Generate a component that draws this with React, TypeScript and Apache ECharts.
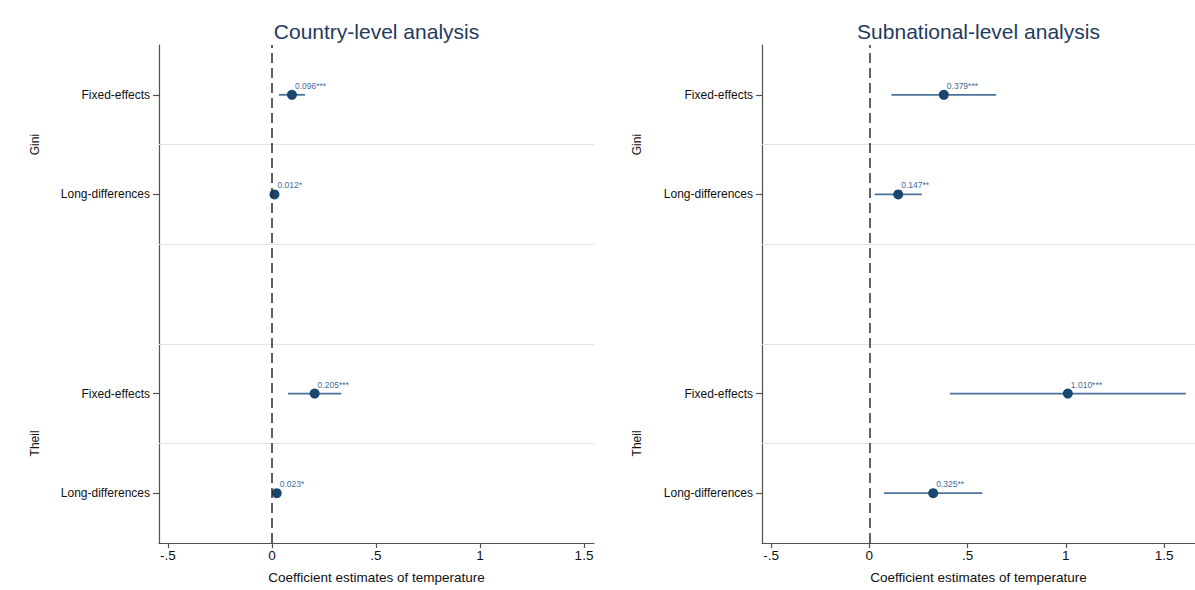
import React, { useEffect, useRef } from "react";
import * as echarts from "echarts";

// Row layout (value positions on the vertical axis, 0 = bottom, 10 = top)
const rowLabels = ["Fixed-effects", "Long-differences", "Fixed-effects", "Long-differences"];
const rowPositions = [9, 7, 3, 1];
const separatorPositions = [8, 6, 4, 2];
const groupLabels = ["Gini", "Theil"];
const groupPositions = [8, 2];

// Country-level estimates and 95% intervals
const countryEst = [0.096, 0.012, 0.205, 0.023];
const countryLo = [0.033, 0.006, 0.077, 0.013];
const countryHi = [0.159, 0.018, 0.333, 0.033];
const countryStars = ["***", "*", "***", "*"];

// Subnational-level estimates and 95% intervals
const subEst = [0.379, 0.147, 1.01, 0.325];
const subLo = [0.113, 0.027, 0.41, 0.075];
const subHi = [0.645, 0.267, 1.61, 0.575];
const subStars = ["***", "**", "***", "**"];

const xTicks = [-0.5, 0, 0.5, 1, 1.5];
const titles = ["Country-level analysis", "Subnational-level analysis"];
const xName = "Coefficient estimates of temperature";

const FONT = "'Liberation Sans', Arial, Helvetica, sans-serif";
const DOT = "#1a476f";
const CI = "#4a7199";
const LABEL = "#3f6c9c";
const GRID = "#dfe3f0";
const AXIS = "#505050";

const fmtTick = (v: number) => {
  if (v === 0) return "0";
  const s = String(v);
  return s.replace(/^(-?)0\./, "$1.");
};

export default function App() {
  const ref = useRef<HTMLDivElement>(null);

  useEffect(() => {
    if (!ref.current) return;
    const chart = echarts.init(ref.current, null, { renderer: "svg" });

    const grids = [
      { left: 159, right: 601, top: 45, bottom: 47 },
      { left: 762, right: 0, top: 45, bottom: 47 },
    ];
    const xRanges = [
      [-0.543, 1.548],
      [-0.546, 1.657],
    ];
    const panels = [
      { est: countryEst, lo: countryLo, hi: countryHi, stars: countryStars },
      { est: subEst, lo: subLo, hi: subHi, stars: subStars },
    ];

    const xAxis = xRanges.map((r, i) => ({
      type: "value",
      gridIndex: i,
      min: r[0],
      max: r[1],
      name: xName,
      nameLocation: "middle",
      nameGap: 27,
      nameTextStyle: { fontFamily: FONT, fontSize: 13.5, color: "#111" },
      axisLine: { show: true, onZero: false, lineStyle: { color: AXIS, width: 1.2 } },
      axisTick: { show: true, length: 5, customValues: xTicks, lineStyle: { color: AXIS, width: 1.2 } },
      axisLabel: {
        customValues: xTicks,
        formatter: (v: number) => fmtTick(v),
        fontFamily: FONT,
        fontSize: 13.5,
        color: "#111",
        margin: 5,
      },
      splitLine: { show: false },
    }));

    const yAxis = grids.map((_, i) => ({
      type: "value",
      gridIndex: i,
      min: 0,
      max: 10,
      interval: 2,
      axisLine: { show: true, onZero: false, lineStyle: { color: AXIS, width: 1.2 } },
      axisTick: { show: true, length: 6, customValues: rowPositions, lineStyle: { color: AXIS, width: 1.2 } },
      axisLabel: {
        customValues: rowPositions,
        formatter: (v: number) => rowLabels[rowPositions.indexOf(v)] ?? "",
        fontFamily: FONT,
        fontSize: 12,
        color: "#111",
        margin: 9,
      },
      splitLine: { show: false },
    }));

    const series: any[] = [];
    panels.forEach((p, i) => {
      // row separators and the zero reference line, drawn beneath the estimates
      series.push({
        type: "line",
        xAxisIndex: i,
        yAxisIndex: i,
        data: [],
        z: 1,
        markLine: {
          silent: true,
          symbol: "none",
          label: { show: false },
          data: [
            ...separatorPositions.map((v) => ({
              yAxis: v,
              lineStyle: { color: GRID, width: 1.2, type: "solid" },
            })),
            {
              xAxis: 0,
              lineStyle: { color: "#2e2e2e", width: 1.5, type: [10, 5] },
            },
          ],
        },
      });
      series.push({
        type: "custom",
        xAxisIndex: i,
        yAxisIndex: i,
        data: p.est.map((_, k) => [p.lo[k], p.hi[k], rowPositions[k]]),
        encode: { x: [0, 1], y: 2 },
        renderItem: (params: any, api: any) => {
          const a = api.coord([api.value(0), api.value(2)]);
          const b = api.coord([api.value(1), api.value(2)]);
          return {
            type: "line",
            shape: { x1: a[0], y1: a[1], x2: b[0], y2: b[1] },
            style: { stroke: CI, lineWidth: 1.8 },
          };
        },
        z: 2,
      });
      series.push({
        type: "scatter",
        xAxisIndex: i,
        yAxisIndex: i,
        symbol: "circle",
        symbolSize: 10,
        itemStyle: { color: DOT, opacity: 1 },
        data: p.est.map((v, k) => [v, rowPositions[k]]),
        label: {
          show: true,
          position: [8, -4],
          align: "left",
          verticalAlign: "middle",
          fontFamily: FONT,
          fontSize: 8.5,
          color: LABEL,
          formatter: (d: any) => d.value[0].toFixed(3) + p.stars[d.dataIndex],
        },
        z: 3,
      });
    });

    const graphic: any[] = [];
    grids.forEach((g, i) => {
      const plotW = 1195 - g.left - g.right;
      graphic.push({
        type: "text",
        x: g.left + plotW / 2,
        y: 31,
        style: {
          text: titles[i],
          fontFamily: FONT,
          fontSize: 21,
          fill: "#1f3a60",
          align: "center",
          verticalAlign: "middle",
        },
      });
    });
    const groupX = [35, 637];
    const plotH = 590 - 45 - 47;
    groupX.forEach((gx) => {
      groupLabels.forEach((lab, j) => {
        graphic.push({
          type: "text",
          x: gx,
          y: 45 + plotH * (1 - groupPositions[j] / 10),
          rotation: Math.PI / 2,
          style: {
            text: lab,
            fontFamily: FONT,
            fontSize: 12,
            fill: "#111",
            align: "center",
            verticalAlign: "middle",
          },
        });
      });
    });

    chart.setOption({
      animation: false,
      backgroundColor: "#ffffff",
      grid: grids,
      xAxis,
      yAxis,
      series,
      graphic,
    });

    return () => chart.dispose();
  }, []);

  return (
    <div
      ref={ref}
      style={{ position: "absolute", left: 0, top: 0, width: 1195, height: 590 }}
    />
  );
}
